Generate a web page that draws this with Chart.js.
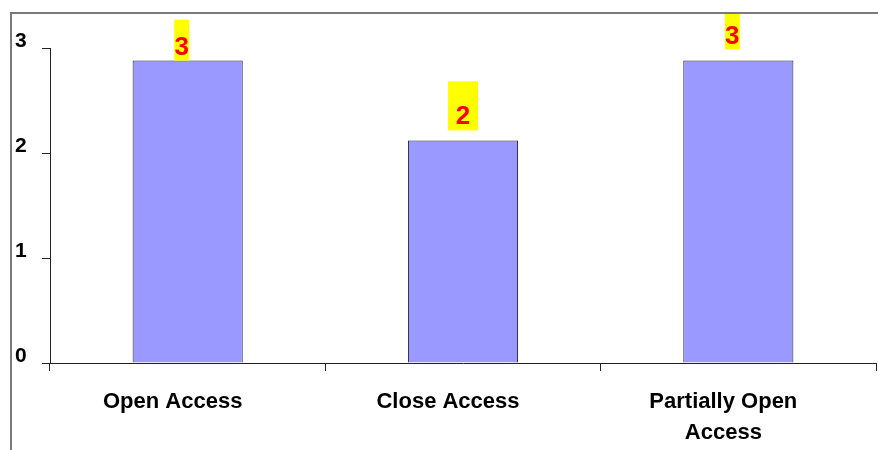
<!DOCTYPE html>
<html>
<head>
<meta charset="utf-8">
<script src="https://cdn.jsdelivr.net/npm/chart.js@4.4.1/dist/chart.umd.min.js"></script>
<style>
  html, body { margin: 0; padding: 0; background: #fff; }
  #wrap { position: relative; width: 878px; height: 450px; }
</style>
</head>
<body>
<div id="wrap"><canvas id="c" width="878" height="450"></canvas></div>
<script>
// Access types and their values
const categories = [["Open Access"], ["Close Access"], ["Partially Open", "Access"]];
const values = [2.88, 2.12, 2.88];
const yTicks = [0, 1, 2, 3];

// Value-label boxes (yellow background, red digits), one entry per bar
const labelBoxWidth = [15, 30, 15];
const labelBoxHeight = [41, 49, 49];
const labelGap = [0, 10, 11];
const labelShift = [-6, 0, -6];

const FONT = '"Liberation Sans", Arial, Helvetica, sans-serif';
const FRAME = { left: 11, top: 13 };

const valueLabels = {
  id: 'valueLabels',
  afterDatasetsDraw(chart) {
    const ctx = chart.ctx;
    const meta = chart.getDatasetMeta(0);
    ctx.save();
    ctx.beginPath();
    ctx.rect(0, FRAME.top, chart.width, chart.height - FRAME.top);
    ctx.clip();
    meta.data.forEach((bar, i) => {
      const w = labelBoxWidth[i], h = labelBoxHeight[i];
      const cx = bar.x + labelShift[i];
      const bottom = bar.y - labelGap[i];
      ctx.fillStyle = '#ffff00';
      ctx.fillRect(cx - w / 2, bottom - h, w, h);
      ctx.fillStyle = '#ff0000';
      ctx.font = 'bold 26px ' + FONT;
      ctx.textAlign = 'center';
      ctx.textBaseline = 'alphabetic';
      ctx.fillText(String(Math.round(values[i])), cx, bottom - 6);
    });
    ctx.restore();
  }
};

const frame = {
  id: 'frame',
  afterDraw(chart) {
    const ctx = chart.ctx;
    ctx.save();
    ctx.strokeStyle = '#7a7a7a';
    ctx.lineWidth = 2;
    ctx.beginPath();
    ctx.moveTo(FRAME.left, chart.height);
    ctx.lineTo(FRAME.left, FRAME.top);
    ctx.lineTo(chart.width, FRAME.top);
    ctx.stroke();
    ctx.restore();
  }
};

new Chart(document.getElementById('c'), {
  type: 'bar',
  data: {
    labels: categories,
    datasets: [{
      data: values,
      backgroundColor: '#9999ff',
      borderColor: '#1f1f33',
      borderWidth: 1,
      categoryPercentage: 1.0,
      barPercentage: 0.4
    }]
  },
  options: {
    responsive: false,
    animation: false,
    devicePixelRatio: 1,
    layout: { padding: { left: 15, top: 48, right: 2, bottom: 0 } },
    plugins: { legend: { display: false }, tooltip: { enabled: false } },
    scales: {
      x: {
        offset: true,
        grid: { offset: true, drawOnChartArea: false, tickLength: 8, color: '#222', lineWidth: 1 },
        border: { color: '#222', width: 1 },
        ticks: {
          color: '#000',
          font: { family: FONT, size: 22, weight: 'bold', lineHeight: 1.42 },
          padding: 15,
          labelOffset: -15,
          maxRotation: 0,
          autoSkip: false
        },
        afterFit(scale) { scale.height = 87; }
      },
      y: {
        min: 0,
        max: 3,
        afterBuildTicks(scale) { scale.ticks = yTicks.map(v => ({ value: v })); },
        grid: { drawOnChartArea: false, tickLength: 8, color: '#222', lineWidth: 1 },
        border: { color: '#222', width: 1 },
        ticks: {
          color: '#000',
          font: { family: FONT, size: 21, weight: 'bold' },
          crossAlign: 'far',
          labelOffset: -7,
          padding: 0
        },
        afterFit(scale) { scale.width = 35; }
      }
    }
  },
  plugins: [valueLabels, frame]
});
</script>
</body>
</html>
